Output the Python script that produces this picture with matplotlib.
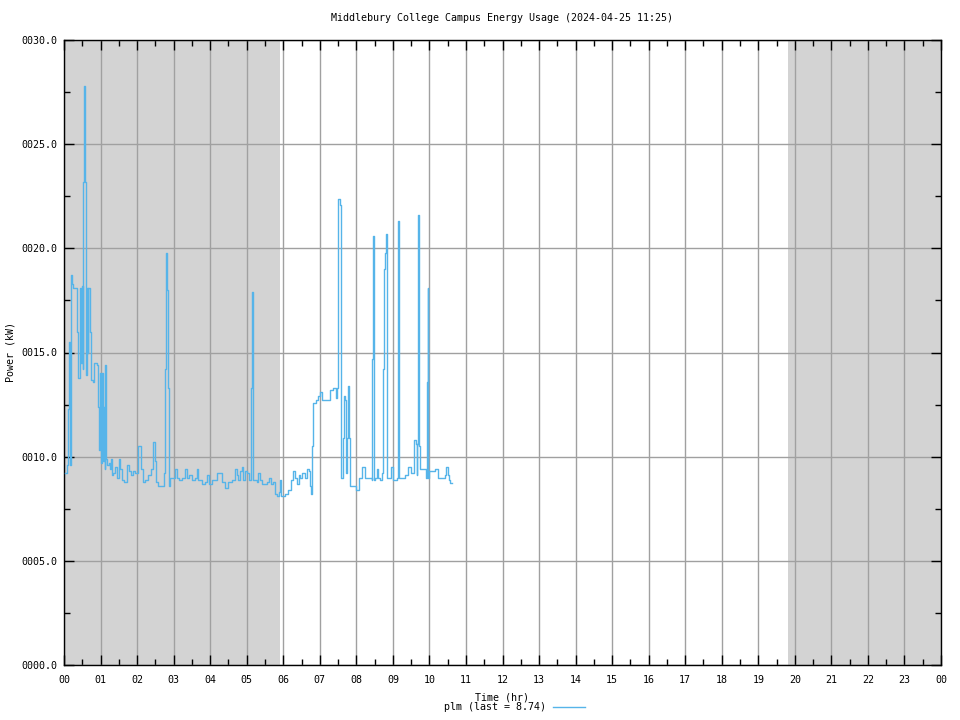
import matplotlib
matplotlib.use('Agg')
import matplotlib.pyplot as plt
from matplotlib.ticker import MultipleLocator, FuncFormatter

# hours since midnight and power (kW)
hours = [0.02, 0.08, 0.10, 0.13, 0.16, 0.18, 0.21, 0.24, 0.36, 0.375, 0.45, 0.47, 0.49, 0.51, 0.52, 0.54,
         0.57, 0.585, 0.61, 0.64, 0.66, 0.67, 0.70, 0.73, 0.80, 0.82, 0.89, 0.92, 0.95, 0.97, 0.99, 1.01,
         1.02, 1.04, 1.06, 1.08, 1.10, 1.12, 1.13, 1.15, 1.18, 1.22, 1.26, 1.28, 1.31, 1.35, 1.40, 1.44,
         1.50, 1.53, 1.59, 1.65, 1.72, 1.77, 1.83, 1.90, 1.95, 2.03, 2.11, 2.15, 2.22, 2.30, 2.38, 2.44,
         2.49, 2.53, 2.58, 2.70, 2.73, 2.76, 2.78, 2.81, 2.83, 2.85, 2.87, 2.90, 2.98, 3.04, 3.09, 3.16,
         3.24, 3.31, 3.36, 3.42, 3.50, 3.58, 3.63, 3.68, 3.77, 3.86, 3.92, 3.97, 4.04, 4.12, 4.18, 4.27,
         4.32, 4.41, 4.50, 4.59, 4.68, 4.73, 4.77, 4.82, 4.86, 4.91, 4.95, 5.00, 5.06, 5.11, 5.14, 5.18,
         5.22, 5.27, 5.31, 5.36, 5.42, 5.55, 5.62, 5.66, 5.73, 5.77, 5.82, 5.89, 5.92, 5.95, 6.05, 6.12,
         6.20, 6.28, 6.33, 6.37, 6.42, 6.46, 6.52, 6.55, 6.60, 6.64, 6.70, 6.72, 6.76, 6.79, 6.81, 6.90,
         6.96, 7.01, 7.05, 7.20, 7.28, 7.35, 7.43, 7.46, 7.49, 7.51, 7.55, 7.57, 7.59, 7.63, 7.66, 7.69,
         7.71, 7.74, 7.78, 7.80, 7.82, 7.90, 8.00, 8.06, 8.16, 8.24, 8.28, 8.37, 8.42, 8.44, 8.46, 8.48,
         8.51, 8.56, 8.60, 8.65, 8.69, 8.72, 8.74, 8.76, 8.79, 8.81, 8.83, 8.92, 8.95, 8.99, 9.01, 9.12,
         9.14, 9.16, 9.18, 9.24, 9.33, 9.42, 9.49, 9.56, 9.59, 9.63, 9.65, 9.67, 9.69, 9.71, 9.72, 9.74,
         9.88, 9.91, 9.93, 9.95, 9.97, 10.00, 10.06, 10.15, 10.24, 10.43, 10.46, 10.52, 10.54, 10.57, 10.63]
power = [9.2, 9.6, 12.3, 15.5, 9.6, 18.7, 18.3, 18.1, 16.0, 13.8, 18.1, 14.5, 18.2, 14.2, 23.2, 27.8,
         27.0, 23.2, 13.9, 18.1, 15.0, 18.1, 16.0, 13.7, 13.6, 14.5, 14.4, 12.4, 10.4, 10.3, 14.0, 12.5,
         9.7, 14.0, 13.5, 9.8, 12.4, 9.4, 14.4, 9.9, 9.6, 9.7, 9.4, 9.9, 9.1, 9.2, 9.5, 9.0,
         9.9, 9.4, 8.9, 8.8, 9.6, 9.3, 9.1, 9.3, 9.2, 10.5, 9.4, 8.8, 8.9, 9.1, 9.4, 10.7,
         9.8, 8.8, 8.6, 8.6, 9.2, 14.2, 19.8, 18.2, 18.0, 13.3, 8.6, 9.0, 9.0, 9.4, 9.0, 8.9,
         9.0, 9.4, 9.0, 9.1, 8.9, 9.0, 9.4, 8.9, 8.7, 8.8, 9.1, 8.7, 8.9, 8.9, 9.2, 9.2,
         8.8, 8.5, 8.8, 8.9, 9.4, 9.1, 8.9, 9.3, 9.5, 8.9, 9.3, 9.2, 8.9, 13.3, 17.9, 8.9,
         8.9, 8.8, 9.2, 8.9, 8.7, 8.8, 9.0, 8.7, 8.8, 8.2, 8.1, 8.3, 8.9, 8.1, 8.2, 8.4,
         8.9, 9.3, 9.0, 8.7, 9.1, 9.0, 9.2, 9.2, 9.0, 9.4, 9.3, 8.6, 8.2, 10.5, 12.6, 12.7,
         12.9, 13.1, 12.7, 12.7, 13.2, 13.3, 12.8, 13.3, 17.5, 22.35, 22.1, 11.3, 9.0, 10.9, 12.9, 12.7,
         9.2, 10.9, 13.4, 10.9, 8.6, 8.6, 8.4, 9.0, 9.5, 9.0, 9.0, 9.0, 8.9, 14.7, 20.6, 8.9,
         9.0, 9.4, 9.0, 8.9, 9.2, 9.7, 14.2, 19.0, 19.8, 20.7, 9.0, 9.0, 9.5, 9.4, 8.9, 9.0,
         21.3, 15.1, 9.0, 9.0, 9.1, 9.5, 9.2, 9.2, 10.8, 10.6, 9.1, 10.6, 21.6, 15.4, 10.5, 9.4,
         9.4, 9.0, 13.6, 18.1, 9.0, 9.3, 9.3, 9.4, 9.0, 9.1, 9.5, 9.1, 8.9, 8.75, 8.74]

sunrise = 5.92   # hr
sunset = 19.81   # hr
last_value = 8.74

plt.rcParams['font.family'] = 'DejaVu Sans Mono'
plt.rcParams['font.size'] = 7.2

fig = plt.figure(figsize=(9.6, 7.2), dpi=100)
ax = fig.add_axes([64 / 960, 55 / 720, 877 / 960, 625 / 720])

# night shading
ax.axvspan(0, sunrise, color='#d3d3d3', lw=0, zorder=0)
ax.axvspan(sunset, 24, color='#d3d3d3', lw=0, zorder=0)

ax.plot(hours, power, drawstyle='steps-post', color='#56b4e9', lw=1, zorder=3)

ax.set_xlim(0, 24)
ax.set_ylim(0, 30)
ax.xaxis.set_major_locator(MultipleLocator(1))
ax.xaxis.set_minor_locator(MultipleLocator(0.5))
ax.yaxis.set_major_locator(MultipleLocator(5))
ax.yaxis.set_minor_locator(MultipleLocator(2.5))
ax.xaxis.set_major_formatter(FuncFormatter(lambda v, p: '%02d' % (int(round(v)) % 24)))
ax.yaxis.set_major_formatter(FuncFormatter(lambda v, p: '%06.1f' % v))
ax.tick_params(which='both', direction='in', top=True, right=True, width=1, colors='black')
ax.tick_params(which='major', length=7)
ax.tick_params(which='minor', length=4)
ax.tick_params(axis='x', which='major', pad=7)
ax.tick_params(axis='y', which='major', pad=5)
ax.grid(True, which='major', color='#a0a0a0', lw=1, zorder=1)
ax.set_axisbelow(True)
for s in ax.spines.values():
    s.set_linewidth(1)

fig.text(502 / 960, 1 - 697 / 720, 'Time (hr)', ha='center', va='center')
fig.text(11 / 960, 1 - 352 / 720, 'Power (kW)', ha='center', va='center', rotation=90)
fig.text(502 / 960, 1 - 18 / 720, 'Middlebury College Campus Energy Usage (2024-04-25 11:25)',
         ha='center', va='center')

# legend below the x label
fig.text(546 / 960, 1 - 707 / 720, 'plm (last = %.2f)' % last_value, ha='right', va='center')
fig.add_artist(plt.Line2D([553 / 960, 585 / 960], [1 - 707 / 720, 1 - 707 / 720],
                          color='#56b4e9', lw=1, transform=fig.transFigure))

fig.savefig('out.png', dpi=100)
